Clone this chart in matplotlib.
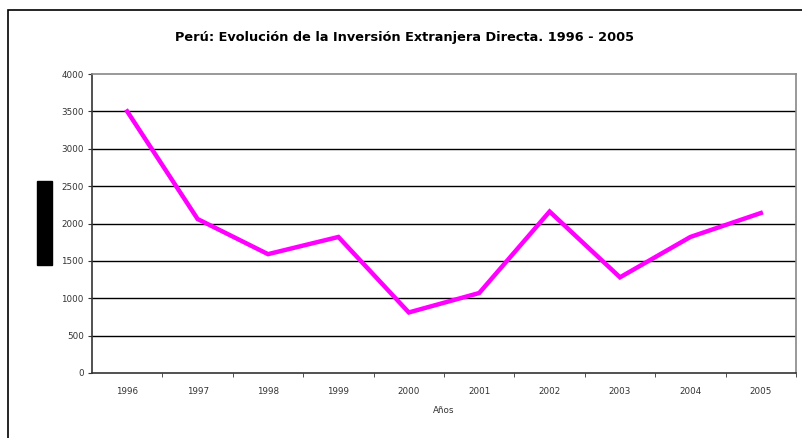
import matplotlib
matplotlib.use('Agg')
import matplotlib.pyplot as plt
from matplotlib.patches import Rectangle

years = ['1996', '1997', '1998', '1999', '2000', '2001', '2002', '2003', '2004', '2005']
ied = [3500, 2060, 1590, 1820, 810, 1070, 2160, 1280, 1820, 2140]
yticks = [0, 500, 1000, 1500, 2000, 2500, 3000, 3500, 4000]

plt.rcParams['font.family'] = ['DejaVu Sans']

fig = plt.figure(figsize=(8.03, 4.38), dpi=100)
W, H = 803, 438

# outer chart border (only left and top visible in the crop)
fig.patches.append(Rectangle((8 / W, -0.1), 1.2, 1 - 10 / H + 0.1, transform=fig.transFigure,
                             fill=False, edgecolor='black', lw=1.2))

ax = fig.add_axes([92 / W, 1 - 373 / H, (796 - 92) / W, (373 - 74) / H])
x = list(range(len(years)))
ax.plot(x, ied, color='#ff00ff', lw=3.2, solid_joinstyle='miter')

ax.set_xlim(-0.5, len(years) - 0.5)
ax.set_ylim(0, 4000)
ax.set_yticks(yticks)
ax.set_yticklabels([str(v) for v in yticks])
ax.set_xticks(x)
ax.set_xticklabels(years)
ax.set_xticks([i - 0.5 for i in range(1, len(years) + 1)], minor=True)
ax.tick_params(axis='x', which='major', length=0, pad=10, labelsize=6.3, labelcolor='#333333')
ax.tick_params(axis='x', which='minor', length=3, direction='out', color='#333333')
ax.tick_params(axis='y', length=3, direction='out', labelsize=6.3, labelcolor='#333333', pad=3, color='#333333')

for v in yticks[1:-1]:
    ax.axhline(v, color='black', lw=1, zorder=1)

ax.spines['left'].set_color('#333333')
ax.spines['bottom'].set_color('#333333')
ax.spines['top'].set_color('#888888')
ax.spines['right'].set_color('#888888')
for s in ax.spines.values():
    s.set_linewidth(1.2)

ax.set_xlabel('Años', fontsize=6.3, color='#333333', labelpad=7)

fig.text(405 / W, 1 - 37 / H, 'Perú: Evolución de la Inversión Extranjera Directa. 1996 - 2005',
         ha='center', va='center', fontsize=9.3, fontweight='bold')

# black box where the y label sits
fig.patches.append(Rectangle((37 / W, 1 - 265 / H), 15 / W, 84 / H, transform=fig.transFigure,
                             color='black'))

fig.savefig('out.png', dpi=100)
